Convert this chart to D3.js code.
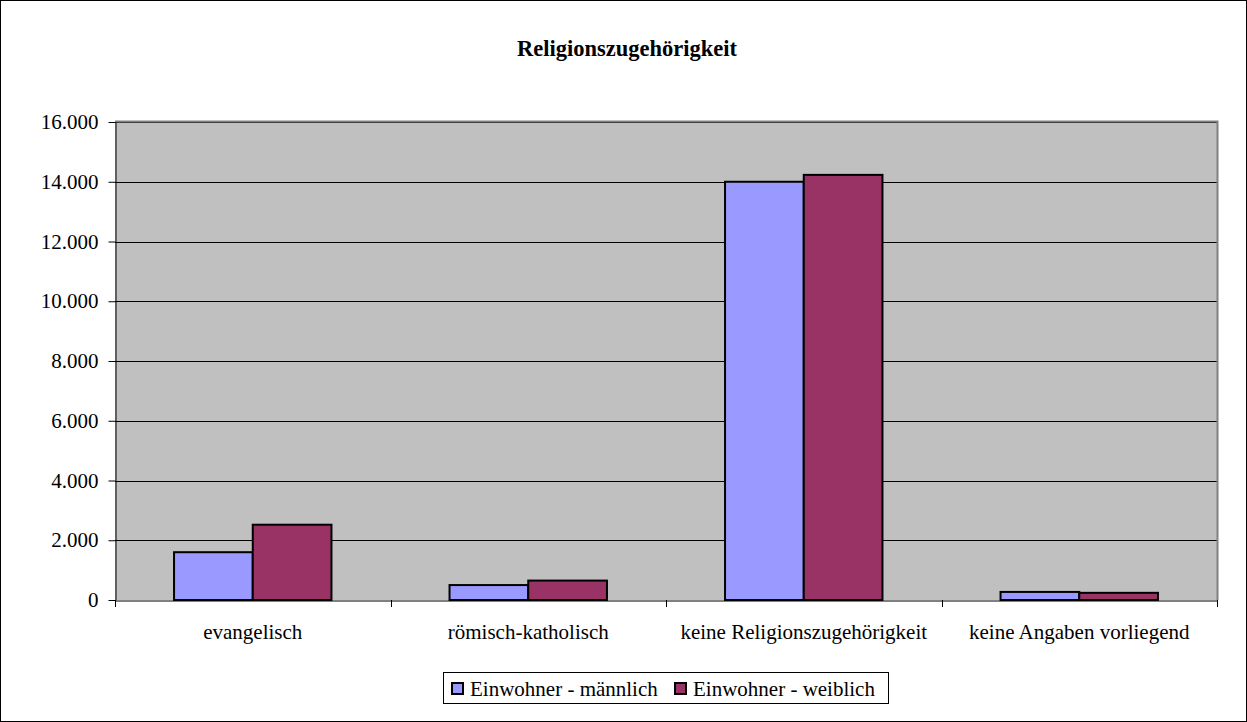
<!doctype html>
<html>
  <head>
    <meta charset="utf-8">
    <script src="https://d3js.org/d3.v7.min.js"></script>
    <style>
      body { margin: 0; background: #fff; }
      svg text { font-family: "Liberation Serif", "Times New Roman", serif; fill: #000; }
    </style>
  </head>
  <body>
    <svg width=1247 height=722></svg>
    <script>
      // data
      var categories = ["evangelisch", "römisch-katholisch", "keine Religionszugehörigkeit", "keine Angaben vorliegend"];
      var seriesNames = ["Einwohner - männlich", "Einwohner - weiblich"];
      var maleValues = [1600, 500, 14000, 270];
      var femaleValues = [2520, 650, 14230, 240];
      var yTicks = [0, 2000, 4000, 6000, 8000, 10000, 12000, 14000, 16000];
      var colors = ["#9999ff", "#993366"];

      var svg = d3.select("svg");
      var pLeft = 115, pRight = 1217, pTop = 122, pBottom = 600;
      var fontFam = "'Liberation Serif', 'Times New Roman', serif";

      svg.append("rect").attr("x", 0.5).attr("y", 0.5).attr("width", 1246).attr("height", 721)
        .attr("fill", "#fff").attr("stroke", "#000");

      svg.append("text").attr("x", 627).attr("y", 56).attr("text-anchor", "middle")
        .style("font-size", "22.5px").style("font-weight", "bold").text("Religionszugehörigkeit");

      var x = d3.scaleBand().domain(categories).range([pLeft, pRight]).paddingInner(0).paddingOuter(0);
      var y = d3.scaleLinear().domain([0, 16000]).range([pBottom, pTop]);
      var inner = d3.scaleBand().domain([0, 1]).range([0, x.bandwidth()]).paddingOuter(0.75).paddingInner(0);

      // plot background
      svg.append("rect").attr("x", pLeft).attr("y", pTop).attr("width", pRight - pLeft).attr("height", pBottom - pTop)
        .attr("fill", "#c0c0c0");

      // grid lines
      svg.append("g").selectAll("line").data(yTicks.filter(function(d){ return d > 0; })).enter().append("line")
        .attr("x1", pLeft).attr("x2", pRight)
        .attr("y1", function(d){ return Math.round(y(d)) + 0.5; })
        .attr("y2", function(d){ return Math.round(y(d)) + 0.5; })
        .attr("stroke", "#000").attr("stroke-width", 1);

      // plot border top/right
      svg.append("path").attr("d", "M" + pLeft + "," + (pTop - 0.5) + "H" + (pRight + 0.5) + "V" + pBottom)
        .attr("fill", "none").attr("stroke", "#808080").attr("stroke-width", 2);

      var rows = categories.map(function(c, i){ return {cat: c, vals: [maleValues[i], femaleValues[i]]}; });
      var groups = svg.append("g").selectAll("g").data(rows).enter().append("g")
        .attr("transform", function(d){ return "translate(" + x(d.cat) + ",0)"; });
      groups.selectAll("rect").data(function(d){ return d.vals.map(function(v, j){ return {v: v, j: j}; }); })
        .enter().append("rect")
        .attr("x", function(d){ return inner(d.j); })
        .attr("y", function(d){ return y(d.v); })
        .attr("width", inner.bandwidth())
        .attr("height", function(d){ return pBottom - y(d.v); })
        .attr("fill", function(d){ return colors[d.j]; })
        .attr("stroke", "#000").attr("stroke-width", 2);

      // y axis
      var yAxis = svg.append("g").attr("transform", "translate(" + (pLeft + 0.5) + ",0)")
        .call(d3.axisLeft(y).tickValues(yTicks).tickSize(7).tickSizeOuter(0).tickPadding(10)
          .tickFormat(function(d){ return d3.format(",")(d).replace(/,/g, "."); }));
      yAxis.attr("font-family", fontFam).attr("font-size", 21);
      yAxis.select(".domain").attr("stroke", "#000");
      yAxis.selectAll("text").style("font-size", "21px");

      // x axis
      var xAxis = svg.append("g").attr("transform", "translate(0," + (pBottom + 0.5) + ")")
        .call(d3.axisBottom(x).tickSize(0).tickSizeOuter(0).tickPadding(24));
      xAxis.attr("font-family", fontFam).attr("font-size", 21);
      xAxis.select(".domain").attr("stroke", "#000");
      xAxis.selectAll("text").style("font-size", "21px");
      svg.append("g").selectAll("line").data(x.domain().map(function(c){ return x(c); }).concat([pRight]))
        .enter().append("line")
        .attr("x1", function(d){ return Math.round(d) + 0.5; }).attr("x2", function(d){ return Math.round(d) + 0.5; })
        .attr("y1", pBottom).attr("y2", pBottom + 7).attr("stroke", "#000");

      // legend
      var lg = svg.append("g").attr("transform", "translate(443,672)");
      lg.append("rect").attr("x", 0.5).attr("y", 0.5).attr("width", 445).attr("height", 31)
        .attr("fill", "#fff").attr("stroke", "#000");
      var offs = [8, 231];
      seriesNames.forEach(function(n, i){
        lg.append("rect").attr("x", offs[i] + 1).attr("y", 11).attr("width", 11).attr("height", 11)
          .attr("fill", colors[i]).attr("stroke", "#000").attr("stroke-width", 2);
        lg.append("text").attr("x", offs[i] + 19).attr("y", 24).style("font-size", "21px").text(n);
      });
    </script>
  </body>
</html>
